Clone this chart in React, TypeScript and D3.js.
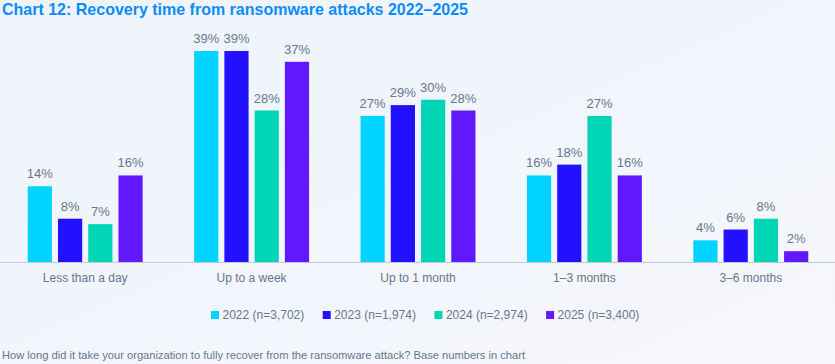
import React from "react";
import * as d3 from "d3";

const categories = ["Less than a day", "Up to a week", "Up to 1 month", "1–3 months", "3–6 months"];
const seriesNames = ["2022 (n=3,702)", "2023 (n=1,974)", "2024 (n=2,974)", "2025 (n=3,400)"];
const v2022 = [14, 39, 27, 16, 4];
const v2023 = [8, 39, 29, 18, 6];
const v2024 = [7, 28, 30, 27, 8];
const v2025 = [16, 37, 28, 16, 2];
const colors = ["#00d4ff", "#2111ff", "#00d6b5", "#6118ff"];

const W = 835;
const H = 364;
const baseY = 262;
const textColor = "#66778f";
const font = "'Liberation Sans', Arial, sans-serif";

export default function App() {
  const series = [v2022, v2023, v2024, v2025];

  // scales
  const x0 = d3.scaleBand().domain(categories).range([2, 834]).paddingInner(0).paddingOuter(0);
  const x1 = d3
    .scaleBand()
    .domain(d3.range(series.length).map(String))
    .range([0, 121])
    .paddingInner(0.2)
    .paddingOuter(0.1);
  const y = d3.scaleLinear().domain([0, 39]).range([baseY, 51]);

  const groupOffset = (x0.bandwidth() - 121) / 2;

  return (
    <svg
      width={W}
      height={H}
      style={{ position: "absolute", left: 0, top: 0, display: "block" }}
      fontFamily={font}
    >
      <defs>
        <linearGradient id="bg" x1="0" y1="0" x2="1" y2="1">
          <stop offset="0" stopColor="#eef4fb" />
          <stop offset="1" stopColor="#f6f7fc" />
        </linearGradient>
      </defs>
      <rect width={W} height={H} fill="url(#bg)" />

      <text x={2} y={15} fontSize={17} fontWeight={700} fill="#0a8cff" textLength={466} lengthAdjust="spacingAndGlyphs">
        Chart 12: Recovery time from ransomware attacks 2022–2025
      </text>

      {categories.map((c, ci) => (
        <g key={c} transform={`translate(${(x0(c) ?? 0) + groupOffset},0)`}>
          {series.map((s, si) => {
            const bx = x1(String(si)) ?? 0;
            const v = s[ci];
            return (
              <g key={si}>
                <rect x={bx} y={y(v)} width={x1.bandwidth()} height={baseY - y(v)} fill={colors[si]} />
                <text
                  x={bx + x1.bandwidth() / 2}
                  y={y(v) - 8}
                  textAnchor="middle"
                  fontSize={13}
                  fill={textColor}
                >
                  {v}%
                </text>
              </g>
            );
          })}
        </g>
      ))}

      <line x1={0} x2={W} y1={baseY + 0.5} y2={baseY + 0.5} stroke="#bccbd8" strokeWidth={1} />

      {categories.map((c) => (
        <text
          key={c}
          x={(x0(c) ?? 0) + x0.bandwidth() / 2}
          y={282}
          textAnchor="middle"
          fontSize={12}
          fill={textColor}
        >
          {c}
        </text>
      ))}

      {seriesNames.map((n, i) => (
        <g key={n} transform={`translate(${211 + i * 111.7},0)`}>
          <rect x={0} y={311} width={8} height={8} fill={colors[i]} />
          <text x={11.5} y={319} fontSize={12} fill={textColor}>
            {n}
          </text>
        </g>
      ))}

      <text x={2} y={359} fontSize={11} fill={textColor} textLength={523} lengthAdjust="spacingAndGlyphs">
        How long did it take your organization to fully recover from the ransomware attack? Base numbers in chart
      </text>
    </svg>
  );
}
